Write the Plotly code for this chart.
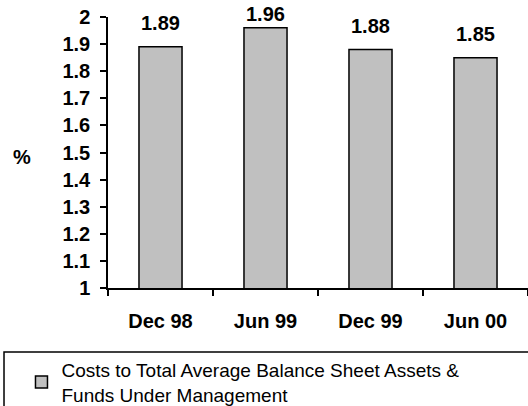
import plotly.graph_objects as go

periods = ["Dec 98", "Jun 99", "Dec 99", "Jun 00"]
cost_ratio = [1.89, 1.96, 1.88, 1.85]
y_ticks = [1.0, 1.1, 1.2, 1.3, 1.4, 1.5, 1.6, 1.7, 1.8, 1.9, 2.0]
y_tick_text = ["1", "1.1", "1.2", "1.3", "1.4", "1.5", "1.6", "1.7", "1.8", "1.9", "2"]
series_name = "Costs to Total Average Balance Sheet Assets &<br>Funds Under Management"

FONT = "Liberation Sans, Arial, sans-serif"
BOLD = dict(family=FONT, size=20, color="black")

TOP, PLOT_H = 17, 271
Y_MIN, Y_MAX = 1.0, 2.0

fig = go.Figure()

fig.add_trace(
    go.Bar(
        x=periods,
        y=cost_ratio,
        name=series_name,
        width=0.41,
        marker=dict(color="#C0C0C0", line=dict(color="black", width=1.5)),
        showlegend=True
    )
)

# value labels above the bars, pulled down when they would leave the chart
for p, v in zip(periods, cost_ratio):
    bar_top_px = TOP + (Y_MAX - v) / (Y_MAX - Y_MIN) * PLOT_H
    shift = min(24, bar_top_px - 14.5)
    fig.add_annotation(
        x=p,
        y=v,
        yshift=shift,
        text=f"<b>{v:.2f}</b>",
        showarrow=False,
        font=BOLD,
        yanchor="middle"
    )

fig.add_annotation(
    x=-0.205, y=0.483, xref="paper", yref="paper",
    xanchor="center", yanchor="middle",
    text="<b>%</b>", showarrow=False, font=BOLD
)

# legend frame
fig.add_shape(
    type="rect", xref="paper", yref="paper",
    x0=-0.2476, x1=1.1, y0=-0.236, y1=-0.7,
    line=dict(color="black", width=1.5)
)

fig.update_layout(
    width=528,
    height=406,
    margin=dict(l=108, r=0, t=TOP, b=118, autoexpand=False),
    plot_bgcolor="white",
    paper_bgcolor="white",
    font=dict(family=FONT, size=20, color="black"),
    bargap=0.59,
    legend=dict(
        x=-0.206,
        y=-0.232,
        xanchor="left",
        yanchor="top",
        bgcolor="rgba(0,0,0,0)",
        font=dict(family=FONT, size=19, color="black")
    ),
    xaxis=dict(
        showline=True,
        linecolor="black",
        linewidth=1.5,
        ticks="outside",
        tickson="boundaries",
        ticklen=6,
        tickwidth=1.5,
        tickcolor="black",
        tickfont=BOLD,
        ticklabelstandoff=14,
        tickprefix="<b>",
        ticksuffix="</b>",
        automargin=False
    ),
    yaxis=dict(
        range=[Y_MIN, Y_MAX],
        tickmode="array",
        tickvals=y_ticks,
        ticktext=[f"<b>{t}</b>" for t in y_tick_text],
        showline=True,
        linecolor="black",
        linewidth=1.5,
        ticks="outside",
        ticklen=6,
        tickwidth=1.5,
        tickcolor="black",
        tickfont=BOLD,
        ticklabelstandoff=6,
        showgrid=False,
        zeroline=False,
        automargin=False
    )
)

# drop the default 8px body margin so the figure fills the window
fig.write_html(
    "out.html",
    config={"displayModeBar": False},
    post_script="document.body.style.margin = '0';"
)
